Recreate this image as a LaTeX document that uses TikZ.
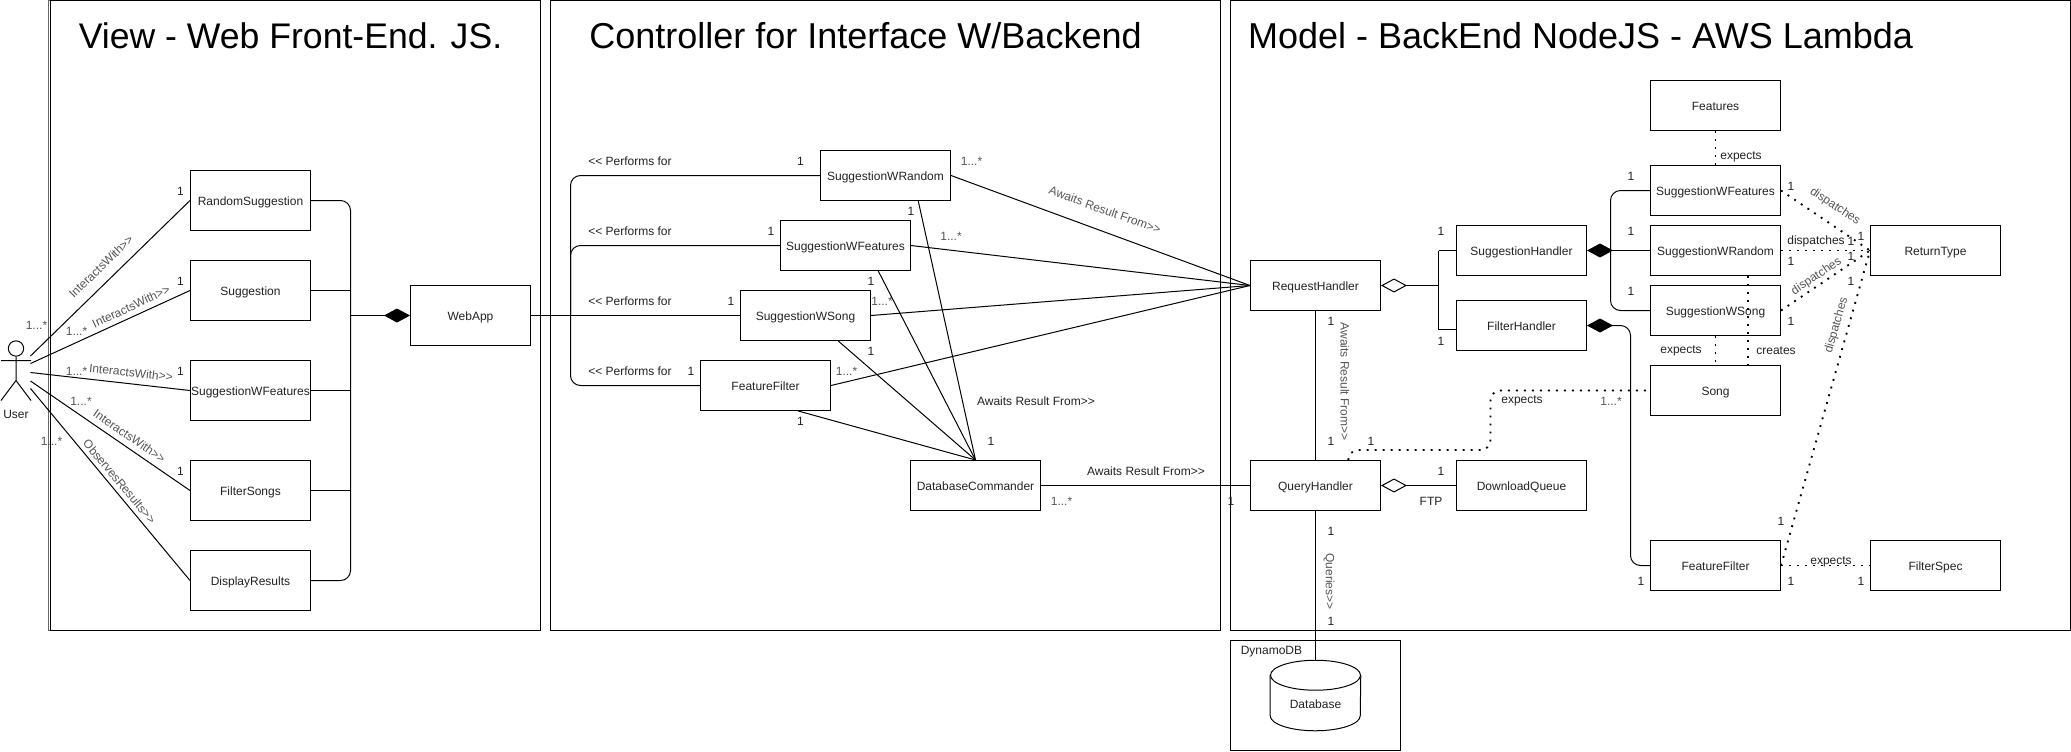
\documentclass[tikz,border=0pt]{standalone}
\usepackage{fontspec}
\setmainfont{Liberation Sans}
\usetikzlibrary{arrows.meta,calc}
\definecolor{ink}{HTML}{222222}
\definecolor{soft}{HTML}{555555}
\newcommand{\GGt}{>\kern0pt>}
\newcommand{\LLt}{<\kern0pt<}
\tikzset{
  frameline/.style={draw=black,line width=0.75pt},
  boxa/.style={draw=black,line width=0.75pt,minimum width=90pt,minimum height=45pt,inner sep=0pt,text=ink,text height=9pt,text depth=1.5pt,font=\fontsize{9}{11}\selectfont},
  boxb/.style={draw=black,line width=0.75pt,minimum width=97.5pt,minimum height=37.5pt,inner sep=0pt,text=ink,text height=9pt,text depth=1.5pt,font=\fontsize{9}{11}\selectfont},
  conn/.style={draw=black,line width=0.75pt},
  round/.style={rounded corners=7.5pt},
  dots/.style={draw=black,line width=1.4pt,dash pattern=on 1.4pt off 4.6pt},
  lbl/.style={inner sep=0pt,text=ink,font=\fontsize{9}{11}\selectfont},
  sft/.style={inner sep=0pt,text=soft,font=\fontsize{9}{11}\selectfont},
  title/.style={inner sep=0pt,text=black,font=\fontsize{27}{32}\selectfont},
  comp/.style={{Diamond[length=19.5pt,width=10.5pt,fill=black]}-},
  aggr/.style={{Diamond[open,length=19.5pt,width=10.5pt,fill=white]}-}
}
\begin{document}
\begin{tikzpicture}[x=0.75pt,y=-0.75pt]
\useasboundingbox (0,0) rectangle (2071,751);
\begin{scope}[shift={(0.5,0.5)}]
% frames
\node[frameline,draw=black!60,minimum width=369pt,minimum height=472.5pt,inner sep=0pt] (fv0) at (294,315) {};
\node[frameline,fill=white,minimum width=367.5pt,minimum height=472.5pt,inner sep=0pt] (fv) at (295,315) {};
\node[frameline,minimum width=502.5pt,minimum height=472.5pt,inner sep=0pt] (fc) at (885,315) {};
\node[frameline,minimum width=630pt,minimum height=472.5pt,inner sep=0pt] (fm) at (1650,315) {};
\node[frameline,minimum width=127.5pt,minimum height=82.5pt,inner sep=0pt] (fd) at (1315,695) {};
\node[title,font=\fontsize{26.7}{32}\selectfont] (t1) at (290,35) {View - Web Front-End. JS.};
\node[title] (t2) at (865,35) {Controller for Interface W/Backend};
\node[title] (t3) at (1580,35) {Model - BackEnd NodeJS - AWS Lambda};
\node[lbl,anchor=west] (t4) at (1240,651) {DynamoDB};
% actor
\node[draw=black,line width=0.75pt,circle,minimum size=11.5pt,inner sep=0pt] (uh) at (15.5,348) {};
\coordinate (ub) at (15.5,380);
\coordinate (ua) at (15.5,360);
\coordinate (al) at (0.5,360);
\coordinate (ar) at (30.5,360);
\coordinate (ll) at (0.5,400);
\coordinate (lr) at (30.5,400);
\draw[conn] (uh.south) -- (ub) (al) -- (ar) (ll) -- (ub) -- (lr);
\node[lbl] (un) at (15.5,413.5) {User};
\coordinate (u1) at (30,355.5);
\coordinate (u2) at (30,363);
\coordinate (u3) at (30,372);
\coordinate (u4) at (30,380.5);
\coordinate (u5) at (30,388);
% view boxes
\node[boxa] (rs) at (250,200) {RandomSuggestion};
\node[boxa] (sg) at (250,290) {Suggestion};
\node[boxa] (sf) at (250,390) {SuggestionWFeatures};
\node[boxa] (fs) at (250,490) {FilterSongs};
\node[boxa] (dr) at (250,580) {DisplayResults};
\node[boxa] (wa) at (470,315) {WebApp};
\coordinate (vb) at (350,315);
\draw[conn] (u1) -- (rs.west);
\draw[conn] (u2) -- (sg.west);
\draw[conn] (u3) -- (sf.west);
\draw[conn] (u4) -- (fs.west);
\draw[conn] (u5) -- (dr.west);
\draw[conn,round] (rs.east) -- (vb|-rs.east) -- (vb|-dr.east) -- (dr.east);
\draw[conn] (sg.east) -- (vb|-sg.east);
\draw[conn] (sf.east) -- (vb|-sf.east);
\draw[conn] (fs.east) -- (vb|-fs.east);
\draw[conn,comp] (wa.west) -- (vb);
\node[sft] (a1) at (36,325) {1...*};
\node[sft] (a2) at (76,330.5) {1...*};
\node[sft] (a3) at (76,370.5) {1...*};
\node[sft] (a4) at (80.5,400.5) {1...*};
\node[sft] (a5) at (51,440.5) {1...*};
\node[lbl] (b1) at (180,190.5) {1};
\node[lbl] (b2) at (180,280.5) {1};
\node[lbl] (b3) at (180,370.5) {1};
\node[lbl] (b4) at (180,470.5) {1};
\node[sft,rotate=44] (i1) at (100.5,266) {InteractsWith\GGt};
\node[sft,rotate=25] (i2) at (130.5,306) {InteractsWith\GGt};
\node[sft,rotate=-6.4] (i3) at (130.5,372) {InteractsWith\GGt};
\node[sft,rotate=-34.5] (i4) at (129,435.5) {InteractsWith\GGt};
\node[sft,rotate=-50] (i5) at (119,481) {ObservesResults\GGt};
% controller boxes
\node[boxb] (cr) at (885,175) {SuggestionWRandom};
\node[boxb] (cf) at (845,245) {SuggestionWFeatures};
\node[boxb] (cs) at (805,315) {SuggestionWSong};
\node[boxb] (cx) at (765,385) {FeatureFilter};
\node[boxb] (dc) at (975,485) {DatabaseCommander};
\coordinate (pb) at (570,315);
\draw[conn] (wa.east) -- (cs.west);
\draw[conn,round] (cr.west) -- (pb|-cr.west) -- (pb|-cx.west) -- (cx.west);
\draw[conn,round] (cf.west) -- (pb|-cf.west) -- (pb|-cs.west);
% model boxes
\node[boxb] (rh) at (1315,285) {RequestHandler};
\node[boxb] (qh) at (1315,485) {QueryHandler};
\node[boxb] (sh) at (1521,250) {SuggestionHandler};
\node[boxb] (fh) at (1521,325) {FilterHandler};
\node[boxb] (dq) at (1521,485) {DownloadQueue};
\node[boxb] (mf) at (1715,105) {Features};
\node[boxb] (mw) at (1715,190) {SuggestionWFeatures};
\node[boxb] (mr) at (1715,250) {SuggestionWRandom};
\node[boxb] (ms) at (1715,310) {SuggestionWSong};
\node[boxb] (so) at (1715,390) {Song};
\node[boxb] (mx) at (1715,565) {FeatureFilter};
\node[boxb] (rt) at (1935,250) {ReturnType};
\node[boxb] (fl) at (1935,565) {FilterSpec};
\node[inner sep=0pt,minimum width=67.5pt,minimum height=52.5pt] (db) at (1315,695) {};
\draw[conn] ($(db.north)+(0,15)$) ellipse [x radius=45,y radius=15];
\draw[conn] ($(db.north west)+(0,15)$) -- ($(db.south west)+(0,-15)$) arc[start angle=180,end angle=0,x radius=45,y radius=15] -- ($(db.north east)+(0,15)$);
\node[lbl] (dbt) at (1315,703.5) {Database};
% controller connectors
\draw[conn] (cr.east) -- (rh.west);
\draw[conn] (cf.east) -- (rh.west);
\draw[conn] (cs.east) -- (rh.west);
\draw[conn] (cx.east) -- (rh.west);
\draw[conn] ($(cr.south west)!.75!(cr.south east)$) -- (dc.north);
\draw[conn] ($(cf.south west)!.75!(cf.south east)$) -- (dc.north);
\draw[conn] ($(cs.south west)!.75!(cs.south east)$) -- (dc.north);
\draw[conn] ($(cx.south west)!.75!(cx.south east)$) -- (dc.north);
\draw[conn] (dc.east) -- (qh.west);
\foreach \n/\x/\y in {p1/587.5/160.5,p2/587.5/230.5,p3/587.5/300.5,p4/587.5/370.5}
  \node[lbl,anchor=west] (\n) at (\x,\y) {\LLt{} Performs for};
\node[lbl] (c1) at (800,160.5) {1};
\node[lbl] (c2) at (770.5,230.5) {1};
\node[lbl] (c3) at (730.5,300.5) {1};
\node[lbl] (c4) at (690.5,370.5) {1};
\node[sft] (c5) at (971,160.5) {1...*};
\node[sft] (c6) at (950.5,235.5) {1...*};
\node[sft] (c7) at (881.5,300.5) {1...*};
\node[sft] (c8) at (846,370.5) {1...*};
\node[sft] (c9) at (1061,500.5) {1...*};
\node[lbl] (d1) at (910.5,210.5) {1};
\node[lbl] (d2) at (870.5,280.5) {1};
\node[lbl] (d3) at (870.5,350.5) {1};
\node[lbl] (d4) at (800,420.5) {1};
\node[lbl] (d5) at (990.5,440.5) {1};
\node[lbl] (d6) at (1230.5,500.5) {1};
\node[sft,rotate=-20] (w1) at (1104.5,209.5) {Awaits Result From\GGt};
\node[lbl] (w2) at (1035.5,400.5) {Awaits Result From\GGt};
\node[lbl] (w3) at (1145.5,470.5) {Awaits Result From\GGt};
% model connectors
\coordinate (jn) at (1438,285);
\draw[conn,aggr] (rh.east) -- (jn);
\draw[conn] (jn|-sh.west) -- (sh.west);
\draw[conn] (jn|-sh.west) -- (1438,329) -- (1456,329);
\draw[conn] (rh.south) -- (qh.north);
\draw[conn] (qh.south) -- (db.north);
\draw[conn,aggr] (qh.east) -- (dq.west);
\coordinate (mb) at (1610,250);
\draw[conn,comp] (sh.east) -- (mr.west);
\draw[conn,round] (mw.west) -- (mb|-mw.west) -- (mb|-ms.west) -- (ms.west);
\coordinate (fb) at (1630,325);
\draw[conn,comp,round] (fh.east) -- (fb) -- (fb|-mx.west) -- (mx.west);
\draw[dots] (mf.south) -- (mw.north);
\draw[dots] (ms.south) -- (so.north);
\draw[dots] ($(mr.south west)!.75!(mr.south east)$) -- ($(so.north west)!.75!(so.north east)$);
\draw[dots] (mw.east) -- (rt.west);
\draw[dots] (mr.east) -- (rt.west);
\draw[dots] (ms.east) -- (rt.west);
\draw[dots] (mx.east) -- (rt.west);
\draw[dots] (mx.east) -- (fl.west);
\draw[dots,round] ($(qh.north west)!.75!(qh.north east)$) -- ++(0,-10) -| (1490,390) -- (so.west);
\node[sft,rotate=-90] (g1) at (1344.5,381) {Awaits Result From\GGt};
\node[lbl] (e1) at (1330.5,320.5) {1};
\node[lbl] (e2) at (1330.5,440.5) {1};
\node[lbl] (e3) at (1370.5,440.5) {1};
\node[lbl] (e4) at (1440.5,230.5) {1};
\node[lbl] (e5) at (1440.5,340.5) {1};
\node[lbl] (e6) at (1630.5,175.5) {1};
\node[lbl] (e7) at (1630.5,230.5) {1};
\node[lbl] (e8) at (1630.5,290.5) {1};
\node[lbl] (h1) at (1521.5,400.5) {expects};
\node[sft] (h2) at (1610.5,400.5) {1...*};
\node[lbl] (h3) at (1740.5,156.5) {expects};
\node[lbl] (h4) at (1775.5,350.5) {creates};
\node[lbl] (h5) at (1680.5,350.5) {expects};
\node[lbl] (k1) at (1790.5,185.5) {1};
\node[sft,rotate=-33.7] (k2) at (1834.5,206) {dispatches};
\node[lbl] (k3) at (1860.5,235.5) {1};
\node[lbl] (k4) at (1815.5,240.5) {dispatches};
\node[lbl] (k5) at (1850.5,240.5) {1};
\node[lbl] (k6) at (1790.5,260.5) {1};
\node[lbl] (k7) at (1850.5,255.5) {1};
\node[sft,rotate=33.7] (k8) at (1816,276) {dispatches};
\node[lbl] (k9) at (1790.5,320.5) {1};
\node[lbl] (k10) at (1850.5,280.5) {1};
\node[sft,rotate=74] (k11) at (1836,325) {dispatches};
\node[lbl] (n1) at (1780.5,520.5) {1};
\node[lbl] (n2) at (1830.5,561.5) {expects};
\node[lbl] (n3) at (1790.5,580.5) {1};
\node[lbl] (n4) at (1860.5,580.5) {1};
\node[lbl] (n5) at (1640.5,580.5) {1};
\node[lbl] (q1) at (1430.5,500.5) {FTP};
\node[lbl] (q2) at (1440.5,470.5) {1};
\node[lbl] (q3) at (1330.5,530.5) {1};
\node[lbl] (q4) at (1330.5,620.5) {1};
\node[sft,rotate=-90] (q5) at (1328.5,581) {Queries\GGt};
\end{scope}
\end{tikzpicture}
\end{document}
